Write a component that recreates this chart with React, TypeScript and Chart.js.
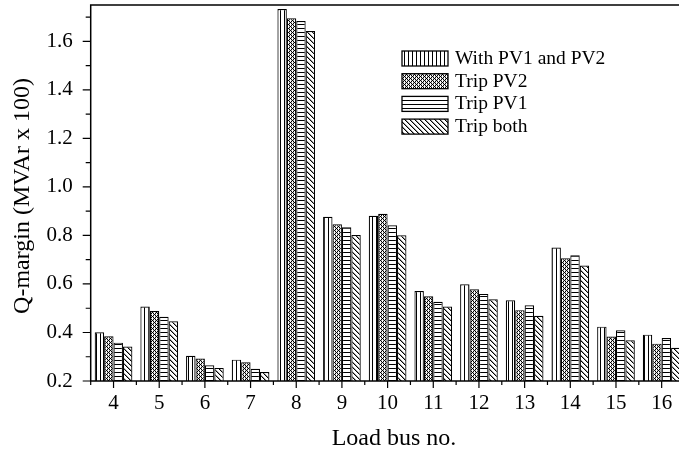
import React, { useEffect, useRef } from 'react';
import { Chart, registerables } from 'chart.js';

Chart.register(...registerables);

const categories = ['4', '5', '6', '7', '8', '9', '10', '11', '12', '13', '14', '15', '16'];
const withPV1andPV2 = [0.401, 0.507, 0.304, 0.288, 1.733, 0.877, 0.881, 0.571, 0.599, 0.533, 0.750, 0.424, 0.391];
const tripPV2 = [0.384, 0.489, 0.293, 0.277, 1.695, 0.846, 0.889, 0.549, 0.578, 0.492, 0.706, 0.383, 0.354];
const tripPV1 = [0.358, 0.465, 0.265, 0.250, 1.684, 0.834, 0.842, 0.527, 0.559, 0.512, 0.718, 0.409, 0.377];
const tripBoth = [0.342, 0.446, 0.254, 0.237, 1.643, 0.802, 0.801, 0.507, 0.537, 0.469, 0.676, 0.368, 0.337];
const seriesLabels = ['With PV1 and PV2', 'Trip PV2', 'Trip PV1', 'Trip both'];
const yMajorTicks = [0.2, 0.4, 0.6, 0.8, 1.0, 1.2, 1.4, 1.6];
const yMinorTicks = [0.3, 0.5, 0.7, 0.9, 1.1, 1.3, 1.5, 1.7];
const xTitle = 'Load bus no.';
const yTitle = 'Q-margin (MVAr x 100)';

const FONT = '"Liberation Serif", "Times New Roman", serif';

type Kind = 'vert' | 'cross' | 'horiz' | 'diag';

function makePattern(kind: Kind): CanvasPattern | string {
  const c = document.createElement('canvas');
  const s = kind === 'diag' ? 5 : 4;
  c.width = s;
  c.height = s;
  const g = c.getContext('2d');
  if (!g) return '#fff';
  g.fillStyle = '#fff';
  g.fillRect(0, 0, s, s);
  g.fillStyle = '#000';
  for (let x = 0; x < s; x++) {
    for (let y = 0; y < s; y++) {
      let on = false;
      if (kind === 'vert') on = x === 0;
      else if (kind === 'horiz') on = y === 0;
      else if (kind === 'diag') on = x === y;
      else if (kind === 'cross') on = x === y || (x + y) % 4 === 0;
      if (on) g.fillRect(x, y, 1, 1);
    }
  }
  if (kind === 'diag') {
    g.fillStyle = 'rgba(0,0,0,0.4)';
    for (let i = 0; i < s; i++) g.fillRect((i + 1) % s, i, 1, 1);
  }
  if (kind === 'cross') {
    g.fillStyle = 'rgba(0,0,0,0.3)';
    g.fillRect(1, 0, 1, 1);
    g.fillRect(3, 0, 1, 1);
    g.fillRect(1, 2, 1, 1);
    g.fillRect(3, 2, 1, 1);
  }
  return g.createPattern(c, 'repeat') || '#fff';
}

export default function App() {
  const ref = useRef<HTMLCanvasElement | null>(null);

  useEffect(() => {
    const canvas = ref.current;
    if (!canvas) return;
    const kinds: Kind[] = ['vert', 'cross', 'horiz', 'diag'];
    const patterns = kinds.map((k) => makePattern(k));
    const values = [withPV1andPV2, tripPV2, tripPV1, tripBoth];

    const decor = {
      id: 'decor',
      afterDraw(chart: any) {
        const ctx = chart.ctx as CanvasRenderingContext2D;
        const { left, right, top, bottom } = chart.chartArea;
        const xs = chart.scales.x;
        const ys = chart.scales.y;
        ctx.save();
        ctx.strokeStyle = '#000';
        ctx.lineWidth = 1.5;
        ctx.strokeRect(left, top, right - left, bottom - top);
        ctx.lineWidth = 1.2;
        ctx.beginPath();
        yMajorTicks.forEach((v) => {
          const p = ys.getPixelForValue(v);
          ctx.moveTo(left - 8, p);
          ctx.lineTo(left, p);
        });
        yMinorTicks.forEach((v) => {
          const p = ys.getPixelForValue(v);
          ctx.moveTo(left - 5, p);
          ctx.lineTo(left, p);
        });
        categories.forEach((_, i) => {
          const p = xs.getPixelForValue(i);
          ctx.moveTo(p, bottom);
          ctx.lineTo(p, bottom + 7);
        });
        for (let i = 0; i <= categories.length; i++) {
          const p = xs.getPixelForValue(i - 0.5);
          ctx.moveTo(p, bottom);
          ctx.lineTo(p, bottom + 4);
        }
        ctx.stroke();

        // axis titles
        ctx.fillStyle = '#000';
        ctx.font = `24px ${FONT}`;
        ctx.textAlign = 'center';
        ctx.textBaseline = 'alphabetic';
        ctx.fillText(xTitle, 394, 445);
        ctx.save();
        ctx.translate(29, 196);
        ctx.rotate(-Math.PI / 2);
        ctx.fillText(yTitle, 0, 0);
        ctx.restore();

        // legend
        const lx = 402;
        const ly = 51;
        const gap = 22.7;
        ctx.font = `19.5px ${FONT}`;
        ctx.textAlign = 'left';
        ctx.textBaseline = 'alphabetic';
        seriesLabels.forEach((lab, i) => {
          const y = ly + i * gap;
          ctx.fillStyle = patterns[i] as any;
          ctx.fillRect(lx, y, 46, 15);
          ctx.lineWidth = 1.3;
          ctx.strokeStyle = '#000';
          ctx.strokeRect(lx, y, 46, 15);
          ctx.fillStyle = '#000';
          ctx.fillText(lab, 455, y + 13);
        });
        ctx.restore();
      },
    };

    const chart = new Chart(canvas, {
      type: 'bar',
      data: {
        labels: categories,
        datasets: values.map((arr, i) => ({
          label: seriesLabels[i],
          data: arr,
          backgroundColor: patterns[i] as any,
          borderColor: '#000',
          borderWidth: 1.2,
          categoryPercentage: 0.825,
          barPercentage: 1,
        })),
      },
      options: {
        responsive: false,
        animation: false,
        devicePixelRatio: 1,
        layout: { padding: { top: 5, right: 15.5, left: 0, bottom: 0 } },
        plugins: { legend: { display: false }, tooltip: { enabled: false } },
        scales: {
          x: {
            type: 'category',
            offset: true,
            grid: { display: false, drawTicks: false },
            border: { display: false },
            ticks: { font: { family: FONT, size: 21 }, color: '#000', padding: 10, maxRotation: 0, autoSkip: false },
            afterFit: (s: any) => {
              s.height = 69;
              s.paddingLeft = 0;
              s.paddingRight = 0;
            },
          },
          y: {
            min: 0.2,
            max: 1.75,
            grid: { display: false, drawTicks: false },
            border: { display: false },
            ticks: {
              font: { family: FONT, size: 21 },
              color: '#000',
              padding: 18,
              callback: (v: any) => Number(v).toFixed(1),
            },
            afterBuildTicks: (s: any) => {
              s.ticks = yMajorTicks.map((v) => ({ value: v }));
            },
            afterFit: (s: any) => {
              s.width = 90.7;
              s.paddingTop = 0;
              s.paddingBottom = 0;
            },
          },
        },
      },
      plugins: [decor],
    } as any);
    return () => chart.destroy();
  }, []);

  return (
    <div style={{ position: 'fixed', left: 0, top: 0, width: 679, height: 450, overflow: 'hidden', background: '#fff' }}>
      <canvas ref={ref} width={700} height={450} style={{ display: 'block' }} />
    </div>
  );
}
